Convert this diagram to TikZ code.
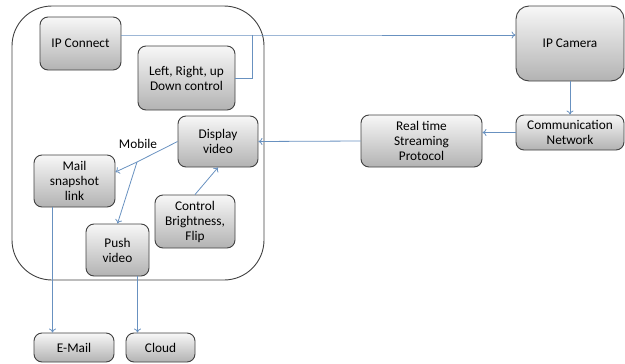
\documentclass[tikz,border=0pt]{standalone}
\usepackage{fontspec}
\setmainfont{Carlito}
\usetikzlibrary{arrows.meta}
\definecolor{linkblue}{RGB}{104,145,192}
\definecolor{boxedge}{RGB}{64,64,64}
\begin{document}
\begin{tikzpicture}[x=1pt,y=-1pt,
  box/.style={draw=boxedge,line width=0.9pt,rounded corners=8pt,
    top color=white!94!gray,bottom color=black!30,align=center,
    font=\fontsize{13.3}{15}\selectfont,inner sep=1pt},
  link/.style={linkblue,line width=0.8pt},
  arr/.style={link,-{To[length=4pt,width=7pt]}}]
  \useasboundingbox (0,0) rectangle (625,364);
  % mobile frame
  \draw[boxedge,line width=0.9pt,rounded corners=40pt] (12,6) rectangle (264,280);
  \node[box,minimum width=81pt,minimum height=53pt] (ipconn) at (80.5,43.5) {IP Connect};
  \node[box,minimum width=97pt,minimum height=64pt] (lrctrl) at (186.5,78) {Left, Right, up\\Down control};
  \node[box,minimum width=80pt,minimum height=51pt] (disp) at (218,141.5) {Display\\video};
  \node[box,minimum width=81pt,minimum height=52pt] (mail) at (74.5,181) {Mail\\snapshot\\link};
  \node[box,minimum width=63pt,minimum height=52pt] (push) at (117.5,250) {Push\\video};
  \node[box,minimum width=80pt,minimum height=53pt] (bright) at (195,221.5) {Control\\Brightness,\\Flip};
  \node[box,minimum width=80pt,minimum height=29pt] (email) at (74,347.5) {E-Mail};
  \node[box,minimum width=69pt,minimum height=29pt] (cloud) at (160.5,347.5) {Cloud};
  \node[box,rounded corners=13pt,minimum width=108pt,minimum height=75pt] (ipcam) at (570,43.5) {IP Camera};
  \node[box,minimum width=108pt,minimum height=35pt] (comm) at (570,132.5) {Communication\\Network};
  \node[box,minimum width=121pt,minimum height=52pt] (rtsp) at (421.5,141) {Real time\\Streaming\\Protocol};
  \node[font=\fontsize{13.3}{15}\selectfont] (mobile) at (138,144) {Mobile};
  % connectors
  \coordinate (junc) at (252,35);
  \coordinate (fork) at (137,162);
  \coordinate (mailout) at ([xshift=-22pt]mail.south);
  \coordinate (pushout) at ([xshift=20pt]push.south);
  \draw[arr] ([yshift=8.5pt]ipconn.east) -- (junc) -- (ipcam.west |- junc);
  \draw[link] (lrctrl.east) -- (lrctrl.east -| junc) -- (junc);
  \draw[arr] (ipcam.south) -- (comm.north);
  \draw[arr] (comm.west) -- (rtsp.east |- comm.west);
  \draw[arr] (rtsp.west) -- (disp.east);
  \draw[link] (disp.west) -- (fork);
  \draw[arr] (fork) -- ([yshift=9pt]mail.east);
  \draw[arr] (fork) -- (push.north);
  \draw[arr] (bright.north) -- (disp.south);
  \draw[arr] (mailout) -- (email.north -| mailout);
  \draw[arr] (pushout) -- (cloud.north -| pushout);
\end{tikzpicture}
\end{document}
